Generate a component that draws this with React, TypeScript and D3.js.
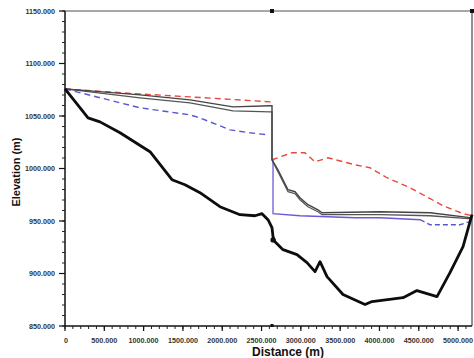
import React from "react";
import * as d3 from "d3";

const W = 474;
const H = 358;

// Ground profile (thick black)
const groundDist = [0, 293, 445, 700, 1081, 1361, 1526, 1717, 1971, 2226, 2417, 2506, 2582, 2633, 2646, 2671, 2773, 2951, 3078, 3180, 3244, 3333, 3536, 3816, 3905, 4300, 4477, 4732, 4897, 5063, 5177];
const groundElev = [1075.8, 1048.2, 1044.4, 1034, 1016, 989.3, 984.5, 977, 963.6, 956, 955, 957, 951.2, 943.6, 935, 930.3, 922.7, 918, 910.3, 901.8, 911.3, 897, 880, 870.4, 873.3, 877, 883.7, 878, 900.8, 925.6, 956];

// Water surface, upper grey line
const greyADist = [0, 954, 1590, 2137, 2608, 2633, 2633, 2709, 2837, 2926, 2989, 3091, 3218, 3269, 4007, 4643, 5177];
const greyAElev = [1075.8, 1070.1, 1065.4, 1058.7, 1059.7, 1059.7, 1008.3, 998.8, 979.8, 977.9, 972.2, 965.5, 960.7, 957.9, 958.8, 957.9, 953];

// Water surface, lower grey line
const greyBDist = [0, 954, 1590, 2137, 2608, 2633, 2633, 2709, 2837, 2926, 2989, 3091, 3218, 3269, 4007, 4643, 5177];
const greyBElev = [1075.8, 1067.3, 1062.5, 1054.9, 1054, 1054, 1008.3, 996.9, 977.9, 976, 970.3, 963.6, 958.8, 956, 956, 955, 952];

// Red dashed (upstream part, downstream part)
const redUpDist = [0, 954, 1590, 2608, 2633];
const redUpElev = [1075.8, 1071, 1068.2, 1063.5, 1063.5];
const redDownDist = [2633, 2887, 3052, 3180, 3345, 3689, 3880, 4096, 4389, 4554, 4808, 5063, 5177];
const redDownElev = [1008.3, 1015, 1015, 1006.4, 1010.2, 1003.5, 1000.7, 991.2, 981.7, 975, 964.6, 957, 955];

// Blue dashed (upstream) and solid (downstream) and dashed tail
const blueUpDist = [0, 954, 1590, 1717, 2099, 2354, 2570];
const blueUpElev = [1075.8, 1057.8, 1051.1, 1048.2, 1036.8, 1034, 1032.1];
const blueSolidDist = [2646, 2646, 2989, 3689, 4007, 4516];
const blueSolidElev = [1008.3, 957, 955, 953.1, 953.1, 951.2];
const blueTailDist = [4516, 4643, 5025, 5177];
const blueTailElev = [951.2, 946.5, 946.5, 950];

const xMajorTicks = [0, 500, 1000, 1500, 2000, 2500, 3000, 3500, 4000, 4500, 5000];
const yMajorTicks = [850, 900, 950, 1000, 1050, 1100, 1150];

export default function App() {
  const left = 65, right = 472, top = 11, bottom = 326;
  const x = d3.scaleLinear().domain([0, 5177]).range([left, right]);
  const y = d3.scaleLinear().domain([850, 1150]).range([bottom, top]);

  const mk = (xs: number[], ys: number[]) =>
    d3.line<number>().x((_, i) => x(xs[i])).y((_, i) => y(ys[i]))(xs) || "";

  const xMinor = d3.range(0, 5101, 100);
  const yMinor = d3.range(850, 1151, 10);
  const fmt = (v: number) => (v === 0 ? "0" : v.toFixed(3));

  const font = "'Liberation Sans', Arial, sans-serif";

  return (
    <svg width={W} height={H} style={{ position: "absolute", left: 0, top: 0, background: "#fff" }}>
      <rect width={W} height={H} fill="#fff" />
      {/* top border */}
      <line x1={left} x2={right} y1={top} y2={top} stroke="#8a8a8a" strokeWidth={1.6} />
      {/* right border */}
      <line x1={right} x2={right} y1={top} y2={bottom} stroke="#222" strokeWidth={1} />
      <rect x={x(2633) - 2} y={top - 2} width={4} height={4} fill="#111" />
      <rect x={right - 2} y={top - 2} width={4} height={4} fill="#111" />
      <rect x={x(2633) - 1.5} y={bottom - 2} width={3} height={3} fill="#111" />

      {/* series */}
      <path d={mk(blueUpDist, blueUpElev)} fill="none" stroke="#5a58d0" strokeWidth={1.4} strokeDasharray="6,4" />
      <path d={mk(blueSolidDist, blueSolidElev)} fill="none" stroke="#6a5ad8" strokeWidth={1.3} />
      <path d={mk(blueTailDist, blueTailElev)} fill="none" stroke="#5a58d0" strokeWidth={1.4} strokeDasharray="5,3" />
      <path d={mk(redUpDist, redUpElev)} fill="none" stroke="#e8473c" strokeWidth={1.4} strokeDasharray="6,4" />
      <path d={mk(redDownDist, redDownElev)} fill="none" stroke="#e8473c" strokeWidth={1.4} strokeDasharray="6,4" />
      <path d={mk(greyBDist, greyBElev)} fill="none" stroke="#555" strokeWidth={1.3} />
      <path d={mk(greyADist, greyAElev)} fill="none" stroke="#444" strokeWidth={1.4} />
      <path d={mk(groundDist, groundElev)} fill="none" stroke="#0d0d0d" strokeWidth={2.8} strokeLinejoin="round" />
      <circle cx={x(2646)} cy={y(932)} r={2.6} fill="#111" />

      {/* axes */}
      <line x1={left} x2={left} y1={top} y2={bottom} stroke="#111" strokeWidth={1.5} />
      <line x1={left} x2={right} y1={bottom} y2={bottom} stroke="#111" strokeWidth={1.5} />
      {yMinor.map((v) => (
        <line key={"ym" + v} x1={left - 3} x2={left} y1={y(v)} y2={y(v)} stroke="#222" strokeWidth={1} />
      ))}
      {yMajorTicks.map((v) => (
        <g key={"y" + v}>
          <line x1={left - 6} x2={left} y1={y(v)} y2={y(v)} stroke="#111" strokeWidth={1.2} />
          <text x={55} y={y(v) + 2.5} textAnchor="end" fontFamily={font} fontSize={7.2} fontWeight="bold" fill="#333">
            {fmt(v)}
          </text>
        </g>
      ))}
      {xMinor.map((v) => (
        <line key={"xm" + v} x1={x(v)} x2={x(v)} y1={bottom} y2={bottom + 3} stroke="#222" strokeWidth={1} />
      ))}
      {xMajorTicks.map((v) => (
        <g key={"x" + v}>
          <line x1={x(v)} x2={x(v)} y1={bottom} y2={bottom + 5} stroke="#111" strokeWidth={1.2} />
          <text x={x(v) + (v === 0 ? 1 : 0)} y={343} textAnchor="middle" fontFamily={font} fontSize={7.2} fontWeight="bold" fill="#333">
            {fmt(v)}
          </text>
        </g>
      ))}
      <text x={288} y={356} textAnchor="middle" fontFamily={font} fontSize={12} fontWeight="bold" fill="#111">
        Distance (m)
      </text>
      <text
        transform={`translate(20,172) rotate(-90)`}
        textAnchor="middle"
        fontFamily={font}
        fontSize={11}
        fontWeight="bold"
        fill="#111"
      >
        Elevation (m)
      </text>
    </svg>
  );
}
